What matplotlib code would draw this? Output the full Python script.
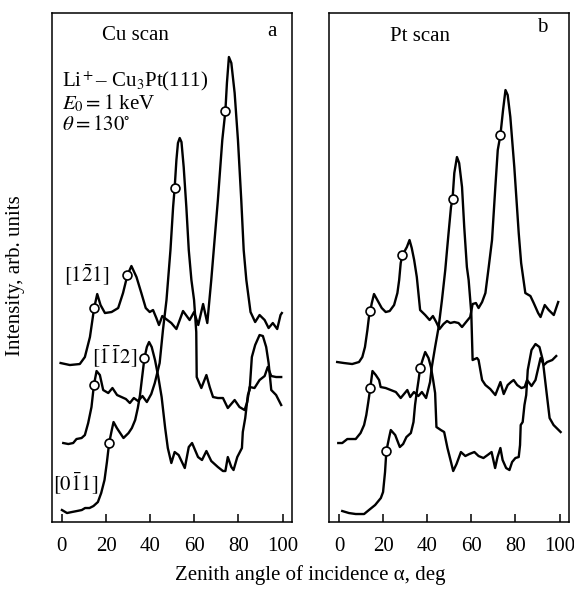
import numpy as np
import matplotlib.pyplot as plt

plt.rcParams['font.family'] = ['Liberation Serif', 'DejaVu Serif']
plt.rcParams['mathtext.fontset'] = 'stix'

# ---- Cu scan (panel a): zenith angle (deg) and intensity (arb. units) ----
a_121_x = [-0.6, 3.6, 8.1, 10.4, 12.7, 14.6, 16.0, 17.5, 19.5, 22.5, 25.5, 27.7, 29.7, 31.5, 33.8,
           36.0, 38.0, 39.8, 41.3, 42.8, 44.0, 45.5, 47.2, 49.6, 51.9, 54.9, 57.9, 59.9, 61.8, 64.0,
           65.9, 67.7, 70.7, 72.7, 74.1, 74.8, 75.7, 76.8, 78.3, 79.8, 81.3, 82.4, 83.6, 85.5, 87.6,
           89.6, 91.9, 93.7, 95.6, 97.6, 99.1, 99.7]
a_121_y = [159, 157, 158, 165, 185, 214, 228, 217, 209, 210, 214, 229, 247, 256, 245,
           229, 214, 210, 212, 204, 197, 206, 203, 199, 193, 211, 202, 210, 197, 218,
           199, 242, 322, 382, 411, 439, 465, 459, 429, 382, 322, 272, 242, 210, 200,
           207, 202, 194, 199, 193, 207, 209]

a_112_x = [0.6, 2.9, 5.1, 6.6, 8.9, 10.4, 11.9, 13.4, 14.5, 15.7, 17.2, 18.7, 21.0, 22.9, 25.0,
           27.0, 29.0, 30.8, 32.6, 34.5, 36.5, 38.5, 40.5, 42.1, 44.3, 45.8, 47.4, 49.2, 50.4, 51.1,
           51.9, 52.6, 53.4, 54.2, 55.2, 56.4, 57.5, 58.7, 59.9, 60.9, 61.1, 63.2, 65.5, 67.0, 68.5,
           70.7, 73.0, 75.2, 78.3, 80.5, 82.8, 84.0, 85.1, 87.3, 89.6, 91.9, 93.3, 94.9, 97.1, 99.4]
a_112_y = [79, 78, 79, 83, 84, 87, 99, 115, 137, 151, 147, 132, 129, 134, 127,
           125, 123, 119, 124, 121, 126, 120, 128, 139, 159, 192, 222, 272, 315, 334,
           362, 379, 384, 380, 355, 315, 272, 242, 222, 190, 145, 134, 147, 135, 125,
           124, 124, 114, 122, 115, 112, 120, 135, 134, 142, 146, 155, 146, 145, 145]

a_011_x = [0.0, 2.3, 4.5, 6.8, 9.0, 10.5, 12.5, 14.3, 16.3, 17.8, 19.3, 20.4, 21.4, 22.6, 23.4,
           24.9, 27.9, 30.2, 31.7, 33.2, 34.4, 35.4, 36.2, 37.4, 38.5, 39.5, 40.7, 42.2, 43.7, 45.2,
           46.8, 48.0, 49.6, 51.1, 52.9, 55.7, 57.5, 59.0, 61.7, 63.5, 65.5, 67.7, 70.7, 73.0, 74.1,
           75.2, 76.8, 77.8, 79.5, 81.6, 82.0, 83.1, 84.3, 85.1, 86.1, 87.6, 89.6, 91.1, 92.6, 93.7,
           94.9, 97.1, 99.4]
a_011_y = [12, 9, 10, 11, 12, 14, 14, 16, 20, 29, 42, 60, 79, 92, 100,
           94, 84, 89, 94, 102, 114, 127, 142, 164, 175, 180, 175, 162, 145, 125,
           94, 74, 59, 70, 67, 54, 75, 79, 65, 62, 71, 61, 55, 51, 51,
           65, 55, 52, 65, 74, 90, 104, 127, 132, 165, 177, 187, 186, 175, 159,
           132, 127, 117]

# open circles on the Cu scan curves
a_mark_x = [14.6, 29.7, 74.1, 14.5, 51.1, 21.4, 37.4]
a_mark_y = [214, 247, 411, 137, 334, 79, 164]

# ---- Pt scan (panel b) ----
b_121_x = [-0.8, 2.3, 6.0, 9.1, 10.6, 11.8, 12.9, 13.6, 14.2, 14.9, 15.9, 17.4, 19.4, 21.2, 23.0,
           25.0, 26.5, 27.3, 28.0, 28.8, 30.8, 32.0, 33.0, 34.1, 35.3, 36.8, 39.1, 41.1, 42.6, 44.1,
           45.6, 47.4, 49.0, 50.5, 52.3, 54.2, 55.8, 58.0, 59.5, 60.6, 62.1, 63.3, 64.9, 66.4, 67.9,
           69.4, 70.9, 72.0, 73.2, 74.4, 75.5, 76.5, 77.7, 79.5, 81.5, 82.6, 84.5, 86.8, 88.3, 90.3,
           91.4, 93.3, 95.1, 97.4, 99.4]
b_121_y = [160, 159, 158, 160, 165, 175, 192, 205, 211, 219, 228, 222, 214, 210, 211,
           217, 229, 242, 259, 267, 275, 282, 274, 262, 245, 212, 207, 202, 206, 200,
           193, 198, 201, 199, 200, 199, 195, 201, 205, 218, 219, 214, 220, 229, 255,
           282, 335, 372, 387, 412, 432, 427, 405, 355, 289, 259, 229, 226, 219, 209,
           205, 217, 212, 207, 220]

b_112_x = [-0.3, 1.5, 3.8, 7.6, 9.8, 11.4, 12.4, 13.3, 14.2, 15.2, 16.7, 18.2, 18.9, 21.2, 23.5,
           25.8, 28.0, 29.5, 31.0, 32.3, 34.0, 36.0, 37.6, 39.5, 41.3, 42.1, 43.6, 45.2, 46.7, 48.2,
           49.0, 49.7, 50.8, 51.5, 52.3, 53.5, 54.5, 55.8, 56.8, 58.0, 58.8, 60.0, 60.6, 62.6, 63.3,
           64.9, 66.4, 68.6, 70.9, 73.2, 74.7, 76.5, 78.0, 79.2, 80.8, 82.7, 84.2, 85.3, 87.3, 89.1,
           91.4, 92.9, 94.4, 96.7, 98.5]
b_112_y = [79, 79, 83, 83, 89, 97, 107, 120, 134, 151, 147, 142, 135, 134, 132,
           130, 124, 128, 132, 125, 130, 126, 130, 124, 140, 155, 175, 195, 222, 252,
           272, 289, 315, 323, 349, 365, 359, 335, 295, 255, 242, 209, 162, 164, 162,
           142, 137, 133, 127, 140, 128, 137, 140, 142, 137, 134, 135, 142, 136, 142,
           164, 157, 160, 162, 166]

b_011_x = [1.5, 4.5, 7.6, 11.4, 13.6, 16.4, 19.0, 20.0, 20.9, 21.5, 22.7, 23.5, 25.5, 27.6, 29.1,
           30.6, 32.6, 33.8, 34.5, 35.1, 36.1, 36.8, 37.9, 39.1, 40.6, 41.7, 42.7, 43.6, 44.2, 46.2,
           47.7, 49.2, 50.8, 51.8, 53.3, 55.3, 57.3, 59.1, 61.4, 63.3, 65.5, 67.4, 69.2, 70.8, 71.9,
           73.2, 74.2, 75.8, 77.3, 78.5, 80.0, 81.5, 82.1, 82.4, 83.3, 84.1, 84.9, 85.6, 87.3, 89.1,
           90.9, 92.4, 94.1, 95.5, 97.3, 100.5]
b_011_y = [11, 9, 8, 8, 12, 17, 24, 30, 50, 71, 84, 92, 87, 75, 78,
           85, 89, 100, 117, 127, 142, 154, 162, 170, 164, 155, 142, 129, 95, 92,
           90, 74, 60, 51, 58, 70, 66, 68, 70, 66, 64, 67, 70, 54, 65,
           74, 62, 54, 52, 60, 64, 65, 77, 97, 100, 117, 127, 152, 172, 178,
           175, 162, 130, 104, 97, 90]

b_mark_x = [14.2, 28.8, 73.2, 14.2, 51.5, 21.5, 36.8]
b_mark_y = [211, 267, 387, 134, 323, 71, 154]

ticks = [0, 20, 40, 60, 80, 100]

fig = plt.figure(figsize=(5.74, 5.92), dpi=100)
ax_a = fig.add_axes([0.0906, 0.1182, 0.4181, 0.8598])
ax_b = fig.add_axes([0.5732, 0.1182, 0.4181, 0.8598])

line_kw = dict(color='black', lw=1.7)
mark_kw = dict(ls='none', marker='o', ms=6.4, mfc='white', mec='black', mew=1.2, zorder=5)

ax_a.plot(a_121_x, a_121_y, **line_kw)
ax_a.plot(a_112_x, a_112_y, **line_kw)
ax_a.plot(a_011_x, a_011_y, **line_kw)
ax_a.plot(a_mark_x, a_mark_y, **mark_kw)

ax_b.plot(b_121_x, b_121_y, **line_kw)
ax_b.plot(b_112_x, b_112_y, **line_kw)
ax_b.plot(b_011_x, b_011_y, **line_kw)
ax_b.plot(b_mark_x, b_mark_y, **mark_kw)

fs = 15
for ax in (ax_a, ax_b):
    ax.set_xlim(-4.5, 104.3)
    ax.set_ylim(0, 509)
    ax.set_xticks(ticks)
    ax.set_yticks([])
    ax.tick_params(axis='x', direction='in', length=5.5, width=1.1, labelsize=fs, pad=11)
    for s in ax.spines.values():
        s.set_linewidth(1.1)

# panel a texts
ax_a.text(33.5, 487, 'Cu scan', fontsize=fs, ha='center', va='center')
ax_a.text(95, 491, 'a', fontsize=fs, ha='center', va='center')
ax_a.text(0, 441, r'Li$^+$– Cu$_3$Pt(111)', fontsize=fs, ha='left', va='center')
ax_a.text(0, 419, r'$E_0 = 1$ keV', fontsize=fs, ha='left', va='center')
ax_a.text(0, 397, r'$\theta = 130^{\circ}$', fontsize=fs, ha='left', va='center')
ax_a.text(11.3, 247, r'$[1\bar{2}1]$', fontsize=fs, ha='center', va='center')
ax_a.text(24, 165, r'$[\bar{1}\bar{1}2]$', fontsize=fs, ha='center', va='center')
ax_a.text(6.3, 38, r'$[0\bar{1}1]$', fontsize=fs, ha='center', va='center')

# panel b texts
ax_b.text(36.8, 486, 'Pt scan', fontsize=fs, ha='center', va='center')
ax_b.text(92.3, 495, 'b', fontsize=fs, ha='center', va='center')

fig.text(0.54, 0.028, 'Zenith angle of incidence α, deg', fontsize=fs, ha='center', va='center')
fig.text(0.027, 0.535, 'Intensity, arb. units', fontsize=fs, ha='center', va='center', rotation=90)

fig.savefig('out.png', dpi=100)
